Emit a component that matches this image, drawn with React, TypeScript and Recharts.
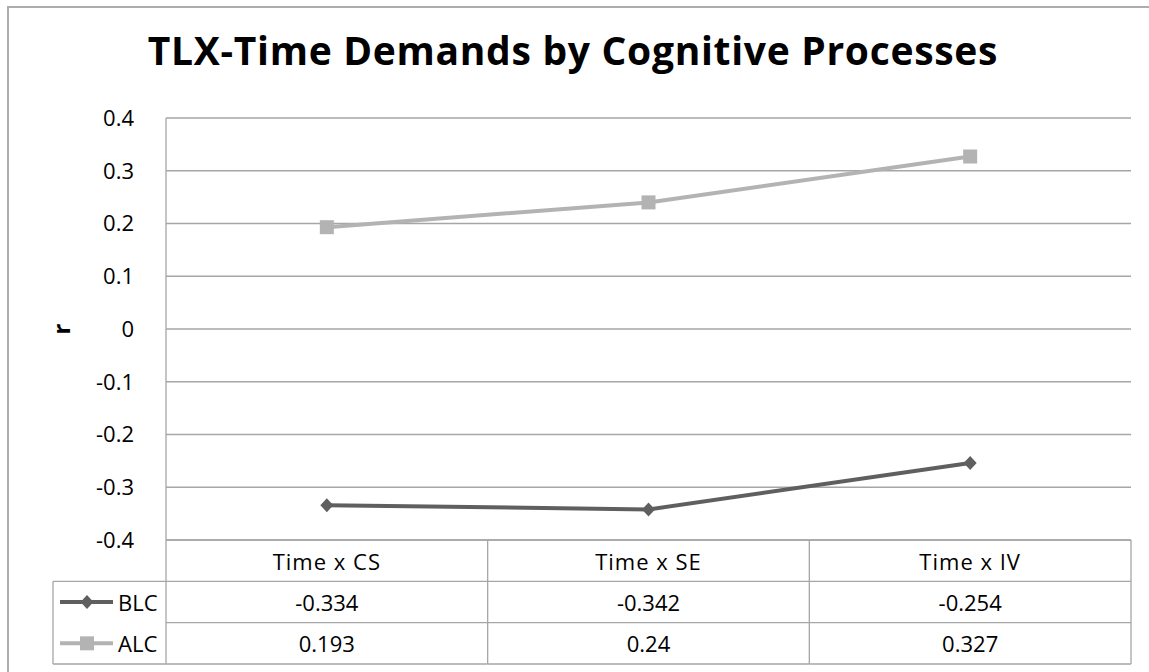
import React from "react";
import { ComposedChart, Line, XAxis, YAxis, CartesianGrid } from "recharts";

const categories = ["Time x CS", "Time x SE", "Time x IV"];
const blcValues = [-0.334, -0.342, -0.254];
const alcValues = [0.193, 0.24, 0.327];
const yTicks = [-0.4, -0.3, -0.2, -0.1, 0, 0.1, 0.2, 0.3, 0.4];
const seriesNames = ["BLC", "ALC"];

const data = categories.map((name, i) => ({
  name,
  BLC: blcValues[i],
  ALC: alcValues[i],
}));

const W = 1149;
const H = 672;
const FONT = "'Open Sans', 'Noto Sans', sans-serif";
const GRID = "#a6a6a6";
const BLC_COLOR = "#5f5f5f";
const ALC_COLOR = "#b3b3b3";
const LEGEND_LEFT = 53;

const fmtTick = (v: number) => String(Math.round(v * 10) / 10);

const Diamond = ({ cx, cy, fill }: any) => (
  <path
    d={`M${cx} ${cy - 7} L${cx + 6.5} ${cy} L${cx} ${cy + 7} L${cx - 6.5} ${cy} Z`}
    fill={fill}
  />
);

const Square = ({ cx, cy, fill }: any) => (
  <rect x={cx - 7} y={cy - 7} width={14} height={14} fill={fill} />
);

// x axis ticks draw the data table under the plot
const TableTick = (props: any) => {
  const { x, y, width, height, payload, index, visibleTicksCount } = props;
  const n = visibleTicksCount || categories.length;
  const colW = (width || 965) / n;
  const rowH = (height || 124) / 3;
  const left = x - colW / 2;
  const i = payload?.index ?? index;
  const rows = [
    { label: seriesNames[0], value: blcValues[i], color: BLC_COLOR, marker: "d" },
    { label: seriesNames[1], value: alcValues[i], color: ALC_COLOR, marker: "s" },
  ];
  const textProps = {
    fontFamily: FONT,
    fontSize: 22,
    fill: "#000",
    textAnchor: "middle" as const,
    dominantBaseline: "central" as const,
  };
  return (
    <g>
      {i === 0 && (
        <line x1={left} y1={y} x2={left} y2={y + 3 * rowH} stroke={GRID} strokeWidth={1.3} />
      )}
      <line x1={left + colW} y1={y} x2={left + colW} y2={y + 3 * rowH} stroke={GRID} strokeWidth={1.3} />
      {[1, 2, 3].map((r) => (
        <line key={r} x1={left} y1={y + r * rowH} x2={left + colW} y2={y + r * rowH} stroke={GRID} strokeWidth={1.3} />
      ))}
      <text x={x} y={y + rowH / 2} {...textProps} letterSpacing={1}>
        {payload.value}
      </text>
      {rows.map((row, r) => (
        <text key={row.label} x={x} y={y + (r + 1.5) * rowH} {...textProps}>
          {String(row.value)}
        </text>
      ))}
      {i === 0 && (
        <g>
          <line x1={LEGEND_LEFT} y1={y + rowH} x2={left} y2={y + rowH} stroke={GRID} strokeWidth={1.3} />
          <line x1={LEGEND_LEFT} y1={y + 3 * rowH} x2={left} y2={y + 3 * rowH} stroke={GRID} strokeWidth={1.3} />
          <line x1={LEGEND_LEFT} y1={y + rowH} x2={LEGEND_LEFT} y2={y + 3 * rowH} stroke={GRID} strokeWidth={1.3} />
          {rows.map((row, r) => {
            const cy = y + (r + 1.5) * rowH;
            const cx = LEGEND_LEFT + 34;
            return (
              <g key={row.label}>
                <line x1={LEGEND_LEFT + 7} y1={cy} x2={LEGEND_LEFT + 60} y2={cy} stroke={row.color} strokeWidth={4} />
                {row.marker === "d" ? (
                  <Diamond cx={cx} cy={cy} fill={row.color} />
                ) : (
                  <Square cx={cx} cy={cy} fill={row.color} />
                )}
                <text
                  x={LEGEND_LEFT + 65}
                  y={cy}
                  fontFamily={FONT}
                  fontSize={22}
                  fill="#000"
                  dominantBaseline="central"
                >
                  {row.label}
                </text>
              </g>
            );
          })}
        </g>
      )}
    </g>
  );
};

const YLabel = (props: any) => {
  const vb = props.viewBox || { x: 0, y: 118, width: 166, height: 422 };
  const cx = vb.x + 60;
  const cy = vb.y + vb.height / 2;
  return (
    <text
      transform={`translate(${cx},${cy}) rotate(-90)`}
      textAnchor="middle"
      dominantBaseline="central"
      fontFamily={FONT}
      fontWeight="bold"
      fontSize={24}
      fill="#000"
    >
      r
    </text>
  );
};

export default function App() {
  return (
    <div
      style={{
        position: "absolute",
        left: 0,
        top: 0,
        width: W,
        height: H,
        overflow: "hidden",
        background: "#fff",
      }}
    >
      <div
        style={{
          position: "absolute",
          left: 7,
          top: 6,
          width: 1200,
          height: 700,
          border: "2px solid #adadad",
        }}
      />
      <div
        style={{
          position: "absolute",
          left: 0,
          top: 30,
          width: 1146,
          textAlign: "center",
          fontFamily: FONT,
          fontWeight: "bold",
          fontSize: 39,
          lineHeight: 1,
          letterSpacing: 0.7,
          color: "#000",
        }}
      >
        TLX-Time Demands by Cognitive Processes
      </div>
      <div style={{ position: "absolute", left: 0, top: 0 }}>
        <ComposedChart
          width={W}
          height={H}
          data={data}
          margin={{ top: 118, right: 18, bottom: 8, left: 0 }}
        >
          <CartesianGrid horizontal vertical={false} stroke={GRID} strokeWidth={1.3} />
          <XAxis
            dataKey="name"
            scale="band"
            interval={0}
            height={124}
            tickLine={false}
            tickSize={0}
            tickMargin={0}
            axisLine={{ stroke: GRID, strokeWidth: 1.3 }}
            tick={<TableTick />}
          />
          <YAxis
            width={166}
            domain={[-0.4, 0.4]}
            ticks={yTicks}
            interval={0}
            tickFormatter={fmtTick}
            tickLine={false}
            tickMargin={26}
            axisLine={{ stroke: GRID, strokeWidth: 1.3 }}
            tick={{ fill: "#000", fontSize: 22, fontFamily: FONT }}
            label={{ content: <YLabel /> }}
          />
          <Line
            dataKey="BLC"
            type="linear"
            stroke={BLC_COLOR}
            strokeWidth={4}
            isAnimationActive={false}
            dot={(p: any) => <Diamond key={`b${p.index}`} cx={p.cx} cy={p.cy} fill={BLC_COLOR} />}
            activeDot={false}
          />
          <Line
            dataKey="ALC"
            type="linear"
            stroke={ALC_COLOR}
            strokeWidth={4}
            isAnimationActive={false}
            dot={(p: any) => <Square key={`a${p.index}`} cx={p.cx} cy={p.cy} fill={ALC_COLOR} />}
            activeDot={false}
          />
        </ComposedChart>
      </div>
    </div>
  );
}
